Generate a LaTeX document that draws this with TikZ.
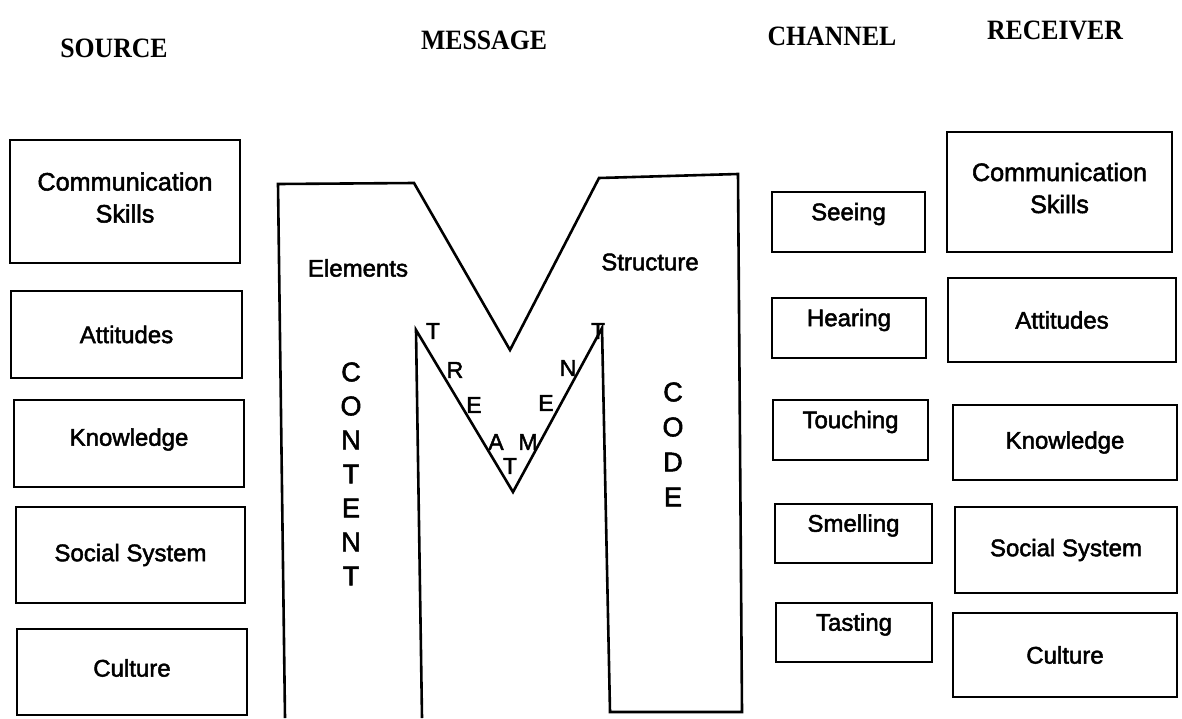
\documentclass[tikz,border=0pt]{standalone}
\usepackage{fontspec}
\setmainfont{Liberation Sans}[FakeBold=2]
\newfontfamily\headfont{Liberation Serif}
\usetikzlibrary{fit}
\tikzset{
  box/.style={draw, line width=1.4pt, inner sep=0pt},
  lbl/.style={font=\fontsize{12}{16}\selectfont, align=center, inner sep=0pt},
  head/.style={font=\headfont\bfseries\fontsize{14}{15}\selectfont, inner sep=0pt},
  let/.style={font=\fontsize{13.5}{15}\selectfont, inner sep=0pt},
  tlet/.style={font=\fontsize{11.5}{14}\selectfont, inner sep=0pt},
  mline/.style={line width=1.3pt, line join=miter}
}
\newcommand\mybox[7]{%
  \node[box, fit={(#2,#3) (#4,#5)}] (#1) {};
  \node[lbl, yshift=#7] (#1t) at (#1.center) {#6};}
\newcommand\cs{\fontsize{12.6}{16.5}\selectfont}
\begin{document}
\begin{tikzpicture}[x=0.5pt, y=-0.5pt]
\useasboundingbox (0,0) rectangle (1182,718);
% headings
\node[head, xscale=0.92] (hsource) at (114,48) {SOURCE};
\node[head, xscale=0.92] (hmessage) at (484,40) {MESSAGE};
\node[head, xscale=0.92] (hchannel) at (832,36) {CHANNEL};
\node[head, xscale=0.92] (hreceiver) at (1055,30) {RECEIVER};
% source boxes
\mybox{s1}{10}{140}{240}{263}{\cs Communication\\\cs Skills}{2pt}
\mybox{s2}{11}{291}{242}{378}{Attitudes}{0pt}
\mybox{s3}{14}{400}{244}{487}{Knowledge}{2pt}
\mybox{s4}{16}{507}{245}{603}{Social System}{0pt}
\mybox{s5}{17}{629}{247}{715}{Culture}{2pt}
% channel boxes
\mybox{c1}{772}{192}{925}{252}{Seeing}{4pt}
\mybox{c2}{772}{298}{926}{358}{Hearing}{4pt}
\mybox{c3}{773}{400}{928}{460}{Touching}{4pt}
\mybox{c4}{775}{504}{932}{563}{Smelling}{4pt}
\mybox{c5}{776}{603}{932}{662}{Tasting}{4pt}
% receiver boxes
\mybox{r1}{947}{132}{1172}{252}{\cs Communication\\\cs Skills}{2pt}
\mybox{r2}{948}{278}{1176}{362}{Attitudes}{0pt}
\mybox{r3}{953}{405}{1177}{480}{Knowledge}{0pt}
\mybox{r4}{955}{507}{1177}{593}{Social System}{0pt}
\mybox{r5}{953}{613}{1177}{697}{Culture}{0pt}
% the M
\draw[mline] (285,718) -- (278,184) -- (414,183) -- (510,350) -- (599,178)
  -- (738,174) -- (742,712) -- (610,712) -- (602,328) -- (513,492)
  -- (416,330) -- (422,718);
\node[lbl] (elements) at (358,268) {Elements};
\node[lbl] (structure) at (650,262) {Structure};
\foreach \l [count=\i] in {C,O,N,T,E,N,T}
  \node[let] (content\i) at (351,{338+34*\i}) {\l};
\foreach \l [count=\i] in {C,O,D,E}
  \node[let] (code\i) at (673,{357+35*\i}) {\l};
\node[tlet] (tr1) at (433,331) {T};
\node[tlet] (tr2) at (455,370) {R};
\node[tlet] (tr3) at (474,405) {E};
\node[tlet] (tr4) at (496,442) {A};
\node[tlet] (tr5) at (510,466) {T};
\node[tlet] (tr6) at (528,442) {M};
\node[tlet] (tr7) at (546,403) {E};
\node[tlet] (tr8) at (568,368) {N};
\node[tlet] (tr9) at (598,331) {T};
\end{tikzpicture}
\end{document}
